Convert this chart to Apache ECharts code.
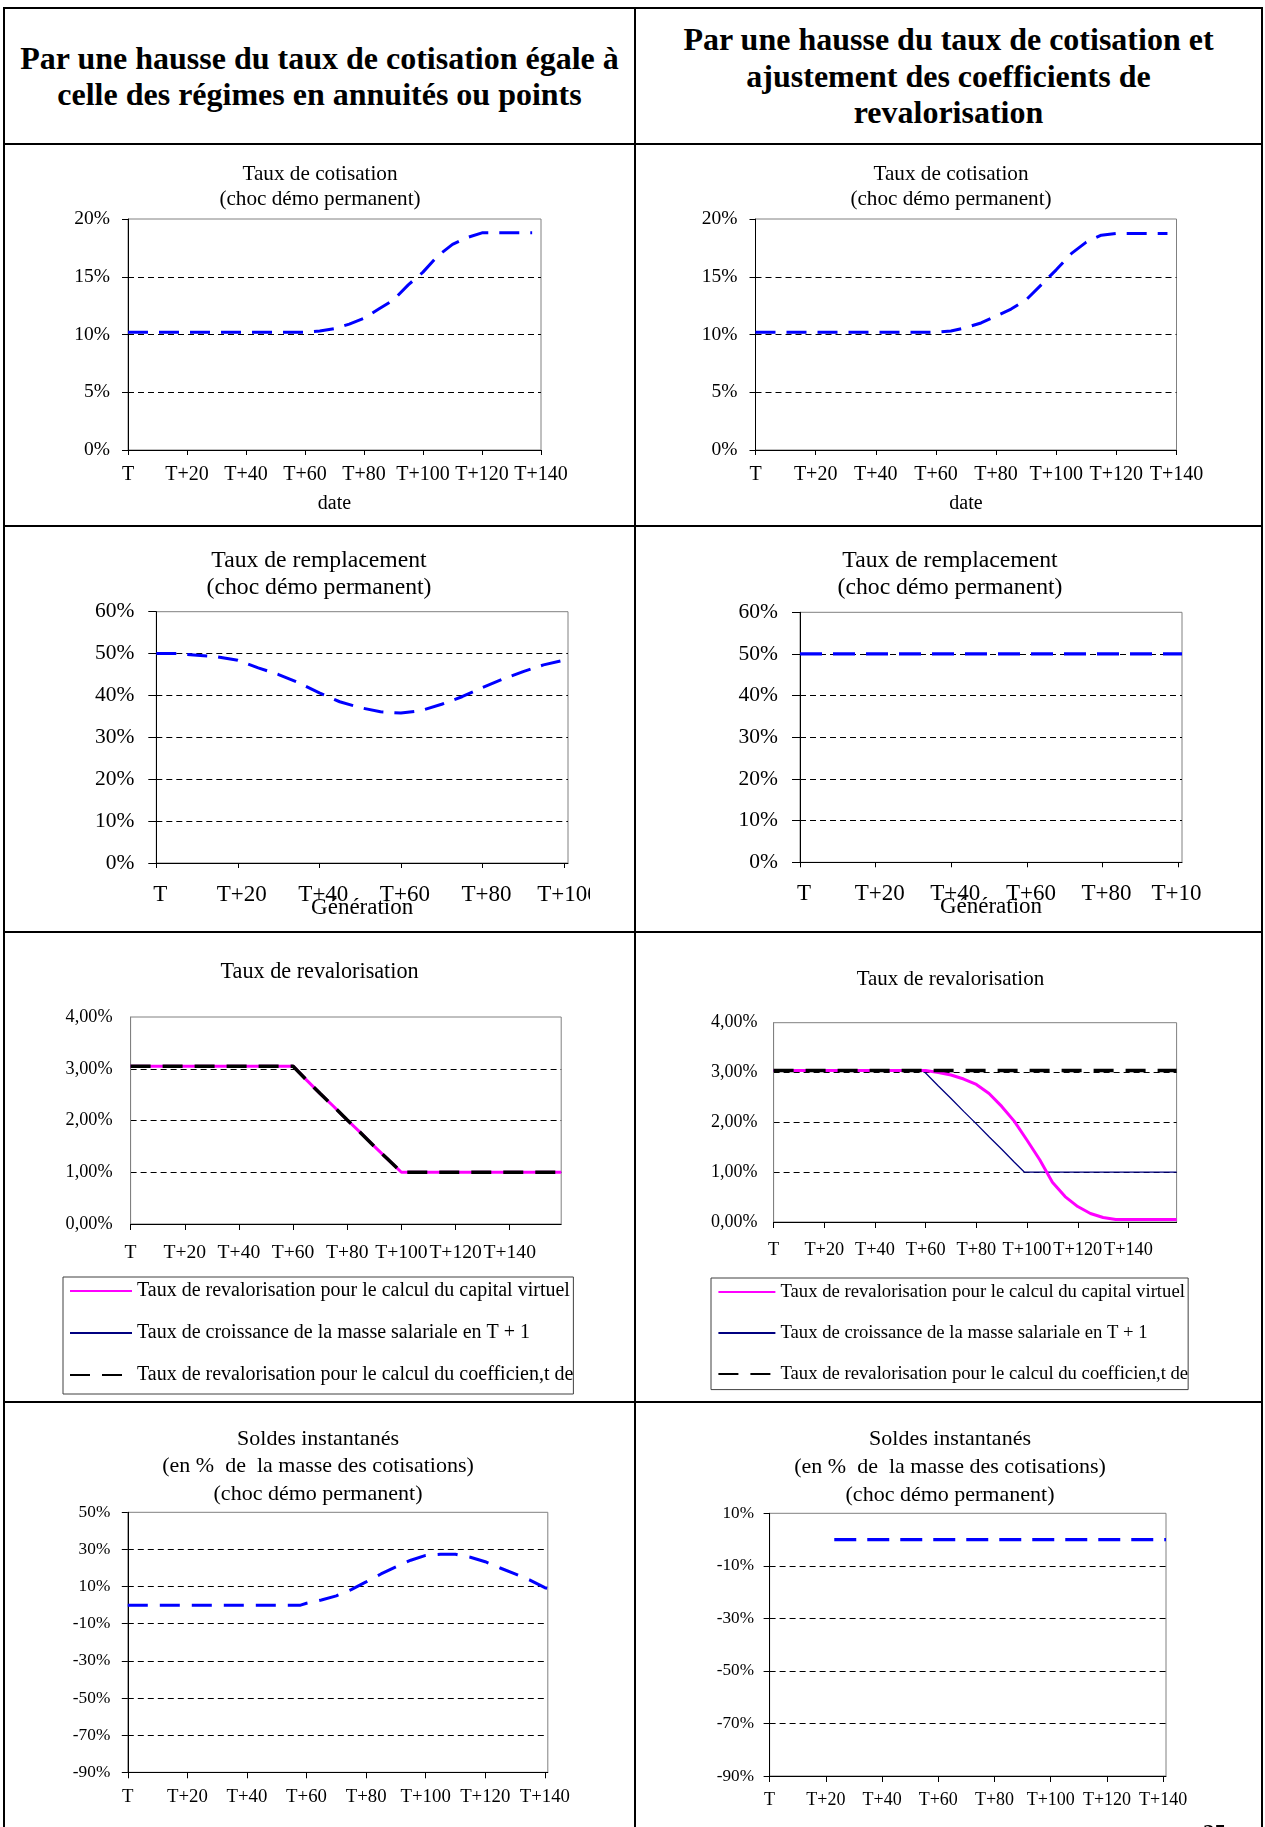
<!DOCTYPE html>
<html><head><meta charset="utf-8">
<script src="https://cdn.jsdelivr.net/npm/echarts@6/dist/echarts.min.js"></script>
<style>
html,body{margin:0;padding:0;background:#fff;}
#page{position:relative;width:1265px;height:1827px;overflow:hidden;background:#fff;font-family:'Liberation Serif','Times New Roman',serif;}
.b{position:absolute;background:#000;}
.hdr{position:absolute;display:flex;align-items:center;justify-content:center;text-align:center;font-weight:bold;font-size:32px;line-height:36.5px;color:#000;}
.ch{position:absolute;overflow:hidden;}
.in{position:absolute;left:0;top:0;}
.pg{position:absolute;left:1203px;top:1821px;font-weight:bold;font-size:23px;line-height:23px;color:#000;}
</style></head><body><div id="page">
<div class="hdr" style="left:5px;top:9px;width:629px;height:134px;">Par une hausse du taux de cotisation égale à<br>celle des régimes en annuités ou points</div>
<div class="hdr" style="left:636px;top:9px;width:625px;height:134px;">Par une hausse du taux de cotisation et<br>ajustement des coefficients de<br>revalorisation</div>
<div class="ch" id="cA" style="left:5px;top:145px;width:629px;height:380px;"></div>
<div class="ch" id="cB" style="left:636px;top:145px;width:625px;height:380px;"></div>
<div class="ch" style="left:5px;top:527px;width:585px;height:404px;"><div class="in" id="cC" style="width:629px;height:404px;"></div></div>
<div class="ch" style="left:636px;top:527px;width:565px;height:404px;"><div class="in" id="cD" style="width:625px;height:404px;"></div></div>
<div class="ch" id="cE" style="left:5px;top:933px;width:629px;height:468px;"></div>
<div class="ch" id="cF" style="left:636px;top:933px;width:625px;height:468px;"></div>
<div class="ch" id="cG" style="left:5px;top:1403px;width:629px;height:424px;"></div>
<div class="ch" id="cH" style="left:636px;top:1403px;width:625px;height:424px;"></div>
<div class="b" style="left:3px;top:7px;width:1260px;height:2px;"></div>
<div class="b" style="left:3px;top:143px;width:1260px;height:2px;"></div>
<div class="b" style="left:3px;top:525px;width:1260px;height:2px;"></div>
<div class="b" style="left:3px;top:931px;width:1260px;height:2px;"></div>
<div class="b" style="left:3px;top:1401px;width:1260px;height:2px;"></div>
<div class="b" style="left:3px;top:7px;width:2px;height:1820px;"></div>
<div class="b" style="left:634px;top:7px;width:2px;height:1820px;"></div>
<div class="b" style="left:1261px;top:7px;width:2px;height:1820px;"></div>
<div class="pg">25</div>
</div>
<script>
const FONT = "'Liberation Serif','Times New Roman',serif";

// ---- tick labels ----
const ticks140 = [0, 20, 40, 60, 80, 100, 120, 140];
const labels140 = ['T', 'T+20', 'T+40', 'T+60', 'T+80', 'T+100', 'T+120', 'T+140'];
const ticks100 = [0, 20, 40, 60, 80, 100];
const labels100 = ['T', 'T+20', 'T+40', 'T+60', 'T+80', 'T+100'];

// ---- Row 1: Taux de cotisation ----
const cotisGaucheX = [0,5,10,15,20,25,30,35,40,45,50,55,60,65,70,75,80,85,90,95,100,105,110,115,120,125,130,137];
const cotisGaucheY = [10.2,10.2,10.2,10.2,10.2,10.2,10.2,10.2,10.2,10.2,10.2,10.2,10.2,10.3,10.5,10.9,11.4,12.2,13.0,14.3,15.4,16.8,17.8,18.4,18.8,18.8,18.8,18.8];
const cotisDroiteX = [0,5,10,15,20,25,30,35,40,45,50,55,60,65,70,75,80,85,90,95,100,105,110,115,120,125,130,137];
const cotisDroiteY = [10.2,10.2,10.2,10.2,10.2,10.2,10.2,10.2,10.2,10.2,10.2,10.2,10.2,10.3,10.6,11.0,11.6,12.2,13.0,14.3,15.6,17.0,18.0,18.6,18.75,18.75,18.75,18.75];

// ---- Row 2: Taux de remplacement ----
const remplGaucheX = [0,5,10,15,20,25,30,35,40,45,50,55,60,65,70,75,80,85,90,95,100,101];
const remplGaucheY = [50,50,49.6,49.2,48.4,46.6,45.0,43.0,40.6,38.5,37.1,36.1,35.8,36.4,37.9,39.7,41.9,43.9,45.7,47.3,48.4,48.6];
const remplDroiteX = [0,20,40,60,80,100,101];
const remplDroiteY = [50,50,50,50,50,50,50];

// ---- Row 3: Taux de revalorisation ----
const revaloGaucheX = [0,20,40,60,65,70,75,80,85,90,95,100,120,140,159];
const capitalGaucheY = [3.05,3.05,3.05,3.05,2.78,2.52,2.27,2.01,1.76,1.5,1.25,1.0,1.0,1.0,1.0];
const masseGaucheY   = [3.05,3.05,3.05,3.05,2.78,2.52,2.27,2.01,1.76,1.5,1.25,1.0,1.0,1.0,1.0];
const coefGaucheY    = [3.05,3.05,3.05,3.05,2.78,2.52,2.27,2.01,1.76,1.5,1.25,1.0,1.0,1.0,1.0];
const capitalDroiteX = [0,20,40,60,65,70,75,80,85,90,95,100,105,110,115,120,125,130,135,140,159];
const capitalDroiteY = [3.04,3.04,3.04,3.04,3.0,2.95,2.87,2.76,2.58,2.32,2.02,1.64,1.25,0.8,0.51,0.31,0.17,0.09,0.05,0.05,0.05];
const masseDroiteX = [0,20,40,59,65,70,75,80,85,90,95,99,120,140,159];
const masseDroiteY = [3.04,3.04,3.04,3.04,2.73,2.48,2.22,1.97,1.71,1.46,1.20,1.0,1.0,1.0,1.0];
const coefDroiteX = [0,20,40,60,80,100,120,140,159];
const coefDroiteY = [3.04,3.04,3.04,3.04,3.04,3.04,3.04,3.04,3.04];
const legendNames = [
  'Taux de revalorisation pour le calcul du capital virtuel',
  'Taux de croissance de la masse salariale en T + 1',
  'Taux de revalorisation pour le calcul du coefficien,t de'
];

// ---- Row 4: Soldes instantanés ----
const soldesGaucheX = [0,10,20,30,40,50,58,60,65,70,75,80,85,90,95,100,105,110,115,120,125,130,135,140,141];
const soldesGaucheY = [0,0,0,0,0,0,0,1.0,2.8,5.0,8.4,12.5,16.8,20.6,24.2,26.8,27.4,27.4,25.8,23.4,20.0,16.8,13.5,9.4,9.0];
const soldesDroiteX = [23,40,60,80,100,120,141];
const soldesDroiteY = [0,0,0,0,0,0,0];

const pairs = (xs, ys) => xs.map((x, i) => [x, ys[i]]);
const pct = v => v + '%';
const pct2 = v => v.toFixed(2).replace('.', ',') + '%';

function line(xs, ys, color, width, dash, name, z) {
  return { type: 'line', name: name || '', data: pairs(xs, ys), symbol: 'none', showSymbol: false,
    lineStyle: { color: color, width: width, type: dash }, itemStyle: { color: color },
    z: z || 2, silent: true, animation: false };
}

function makeOption(c) {
  const lab = v => { const i = c.xTicks.indexOf(v); return i < 0 ? '' : c.xLabels[i]; };
  return {
    animation: false,
    textStyle: { fontFamily: FONT },
    graphic: [{ type: 'text', x: c.titleX, y: c.titleY, silent: true,
      style: { text: c.title, fontFamily: FONT, fontSize: c.titleSize, lineHeight: c.titleLH, fill: '#000',
        align: 'center', verticalAlign: 'middle', textAlign: 'center', textVerticalAlign: 'middle' } }],
    grid: { left: c.grid[0], top: c.grid[1], width: c.grid[2], height: c.grid[3], show: true,
      outerBoundsMode: 'none', containLabel: false,
      borderColor: '#808080', borderWidth: 1, backgroundColor: 'transparent' },
    xAxis: { type: 'value', min: 0, max: c.xMax, interval: 20,
      name: c.xName || '', nameLocation: 'middle', nameGap: c.xNameGap || 0, nameMoveOverlap: false,
      nameTextStyle: { fontFamily: FONT, fontSize: c.xNameSize || 20, color: '#000' },
      axisLine: { show: true, onZero: false, lineStyle: { color: '#000', width: 1 } },
      axisTick: { show: true, length: c.xTickLen, customValues: c.xTicks, lineStyle: { color: '#000' } },
      axisLabel: { customValues: c.xTicks, formatter: lab, fontFamily: FONT, fontSize: c.xSize, color: '#000',
        margin: c.xMargin, padding: c.xPad || 0 },
      splitLine: { show: false } },
    yAxis: { type: 'value', min: c.yMin, max: c.yMax, interval: c.yInt,
      axisLine: { show: true, onZero: false, lineStyle: { color: c.yAxisColor || '#000', width: 1 } },
      axisTick: { show: c.yTickLen > 0, length: c.yTickLen, lineStyle: { color: '#000' } },
      axisLabel: { formatter: c.yFmt, fontFamily: FONT, fontSize: c.ySize, color: '#000', margin: c.yMargin },
      splitLine: { show: true, showMinLine: false, showMaxLine: false,
        lineStyle: { color: '#000', width: 1, type: [6, 4] } } },
    legend: c.legend || { show: false },
    series: c.series
  };
}

function legendCfg(left, top, itemW, pad, fontSize, textW) {
  return { show: true, orient: 'vertical', left: left, top: top, itemWidth: itemW, itemHeight: 14, itemGap: 22,
    padding: pad, borderColor: '#404040', borderWidth: 1, backgroundColor: '#fff', selectedMode: false,
    itemStyle: { opacity: 0 },
    textStyle: { fontFamily: FONT, fontSize: fontSize, color: '#000', width: textW, overflow: 'truncate', ellipsis: '' },
    data: legendNames };
}

const BLUE = '#0000FF';
const cfgs = {
  cA: { title: 'Taux de cotisation\n(choc démo permanent)', titleX: 315, titleY: 41.5, titleSize: 21.2, titleLH: 25,
    grid: [123, 74, 413, 231], xMax: 140, xTicks: ticks140, xLabels: labels140, xSize: 20, xMargin: 15, xTickLen: 5,
    xName: 'date', xNameGap: 44, xNameSize: 20,
    yMin: 0, yMax: 20, yInt: 5, yFmt: pct, ySize: 19.5, yMargin: 18, yTickLen: 6,
    series: [line(cotisGaucheX, cotisGaucheY, BLUE, 3, [20, 11])] },
  cB: { title: 'Taux de cotisation\n(choc démo permanent)', titleX: 315, titleY: 41.5, titleSize: 21.2, titleLH: 25,
    grid: [119.5, 74, 421, 231], xMax: 140, xTicks: ticks140, xLabels: labels140, xSize: 20, xMargin: 15, xTickLen: 5,
    xName: 'date', xNameGap: 44, xNameSize: 20,
    yMin: 0, yMax: 20, yInt: 5, yFmt: pct, ySize: 19.5, yMargin: 18, yTickLen: 6,
    series: [line(cotisDroiteX, cotisDroiteY, BLUE, 3, [20, 11])] },
  cC: { title: 'Taux de remplacement\n(choc démo permanent)', titleX: 314, titleY: 47.3, titleSize: 23.7, titleLH: 26.7,
    grid: [151.3, 84.7, 411.7, 251.3], xMax: 101, xTicks: ticks100, xLabels: labels100, xSize: 23, xMargin: 20.5, xTickLen: 5,
    xPad: [0, 0, 0, 8],
    xName: 'Génération', xNameGap: 33.5, xNameSize: 23,
    yMin: 0, yMax: 60, yInt: 10, yFmt: pct, ySize: 21.5, yMargin: 22, yTickLen: 8,
    series: [line(remplGaucheX, remplGaucheY, BLUE, 3, [20, 11])] },
  cD: { title: 'Taux de remplacement\n(choc démo permanent)', titleX: 314, titleY: 47.3, titleSize: 23.7, titleLH: 26.7,
    grid: [164, 85.3, 382, 250], xMax: 101, xTicks: ticks100, xLabels: labels100, xSize: 23, xMargin: 20.5, xTickLen: 5,
    xPad: [0, 0, 0, 8],
    xName: 'Génération', xNameGap: 33.5, xNameSize: 23,
    yMin: 0, yMax: 60, yInt: 10, yFmt: pct, ySize: 21.5, yMargin: 22, yTickLen: 8,
    series: [line(remplDroiteX, remplDroiteY, BLUE, 3.3, [22, 11])] },
  cE: { title: 'Taux de revalorisation', titleX: 314.6, titleY: 38.7, titleSize: 22.2, titleLH: 26,
    grid: [125.6, 84, 430.6, 207], xMax: 159, xTicks: ticks140, xLabels: labels140, xSize: 19.6, xMargin: 19, xTickLen: 6,
    yMin: 0, yMax: 4, yInt: 1, yFmt: pct2, ySize: 18.2, yMargin: 18, yTickLen: 0, yAxisColor: '#808080',
    legend: legendCfg(58, 344, 62, [4, 0, 9, 6], 20, 440),
    series: [
      line(revaloGaucheX, capitalGaucheY, '#FF00FF', 3, 'solid', legendNames[0], 3),
      line(revaloGaucheX, masseGaucheY, '#000080', 1.3, 'solid', legendNames[1], 2),
      line(revaloGaucheX, coefGaucheY, '#000000', 3.5, [20, 12], legendNames[2], 4)
    ] },
  cF: { title: 'Taux de revalorisation', titleX: 314.4, titleY: 46.3, titleSize: 21, titleLH: 26,
    grid: [137.6, 89.7, 403, 199.3], xMax: 159, xTicks: ticks140, xLabels: labels140, xSize: 18.3, xMargin: 19, xTickLen: 6,
    yMin: 0, yMax: 4, yInt: 1, yFmt: pct2, ySize: 18, yMargin: 16, yTickLen: 0, yAxisColor: '#808080',
    legend: legendCfg(75, 345, 57, [4.6, 0, 6, 6.4], 18.7, 413),
    series: [
      line(capitalDroiteX, capitalDroiteY, '#FF00FF', 3, 'solid', legendNames[0], 3),
      line(masseDroiteX, masseDroiteY, '#000080', 1.3, 'solid', legendNames[1], 2),
      line(coefDroiteX, coefDroiteY, '#000000', 3.5, [20, 12], legendNames[2], 4)
    ] },
  cG: { title: 'Soldes instantanés\n(en %  de  la masse des cotisations)\n(choc démo permanent)', titleX: 313, titleY: 63.7, titleSize: 22, titleLH: 27.4,
    grid: [122.8, 109.3, 420, 260], xMax: 141, xTicks: ticks140, xLabels: labels140, xSize: 18.8, xMargin: 15, xTickLen: 6,
    yMin: -90, yMax: 50, yInt: 20, yFmt: pct, ySize: 17.3, yMargin: 17.5, yTickLen: 6,
    series: [line(soldesGaucheX, soldesGaucheY, BLUE, 3, [20, 12])] },
  cH: { title: 'Soldes instantanés\n(en %  de  la masse des cotisations)\n(choc démo permanent)', titleX: 314, titleY: 64.5, titleSize: 22, titleLH: 28.2,
    grid: [133.6, 110.3, 396.4, 262.7], xMax: 141, xTicks: ticks140, xLabels: labels140, xSize: 18, xMargin: 15, xTickLen: 6,
    yMin: -90, yMax: 10, yInt: 20, yFmt: pct, ySize: 17.2, yMargin: 15.6, yTickLen: 6,
    series: [line(soldesDroiteX, soldesDroiteY, BLUE, 3.3, [22, 11])] }
};

Object.keys(cfgs).forEach(id => {
  const ch = echarts.init(document.getElementById(id), null, { renderer: 'canvas' });
  ch.setOption(makeOption(cfgs[id]));
});
</script>
</body></html>
